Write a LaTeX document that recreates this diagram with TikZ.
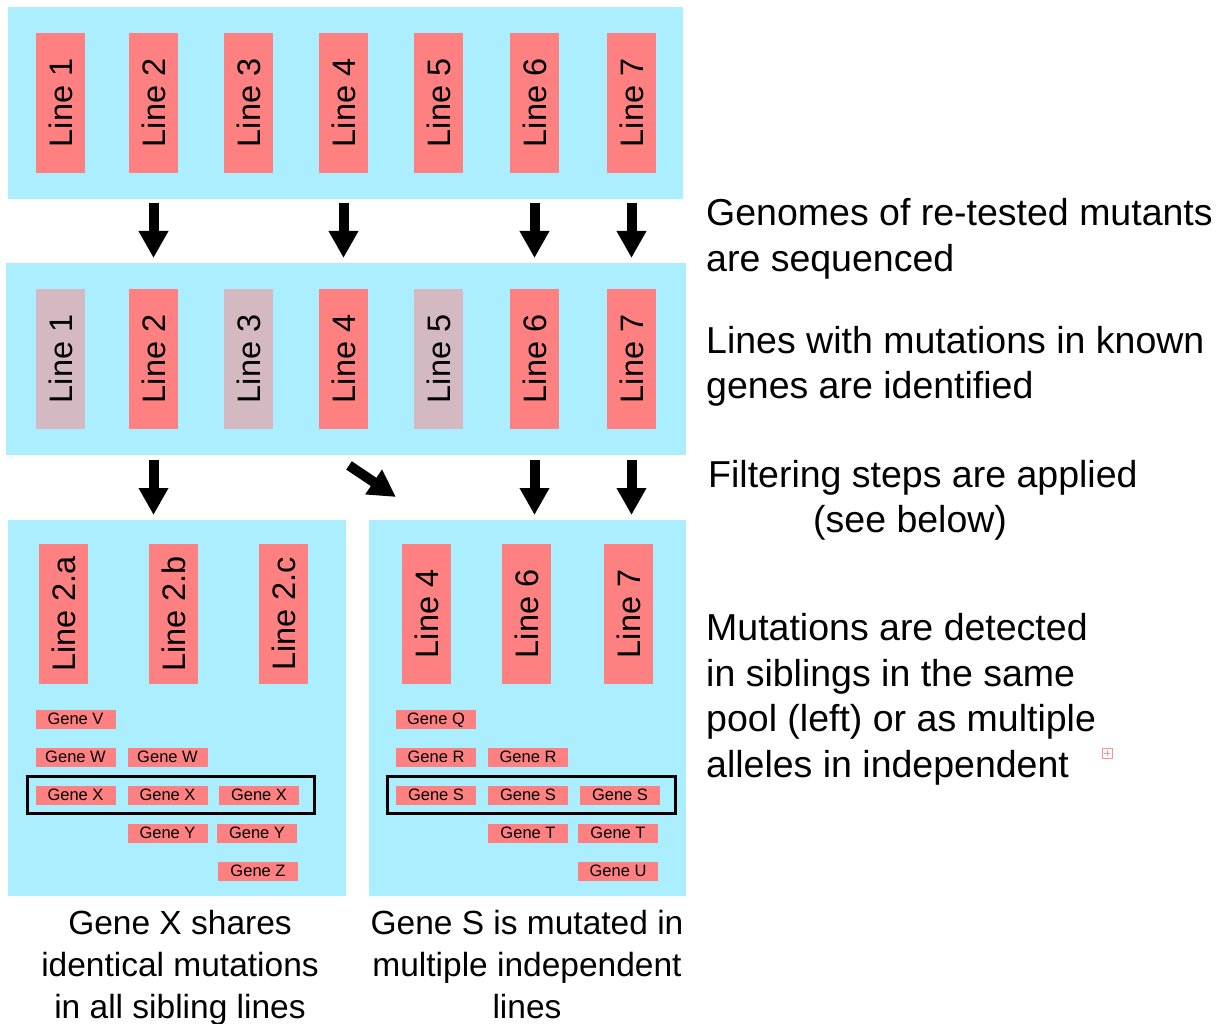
\documentclass[tikz,border=0pt]{standalone}
\usepackage{fontspec}
\setmainfont{Liberation Sans}
\usetikzlibrary{arrows.meta,calc}
\definecolor{panelblue}{RGB}{170,238,255}
\definecolor{linered}{RGB}{255,128,128}
\definecolor{linegrey}{RGB}{213,185,194}
\definecolor{iconred}{RGB}{245,150,150}
\begin{document}
\begin{tikzpicture}[x=1pt,y=-1pt,
panel/.style={fill=panelblue,inner sep=0pt,anchor=north west},
linebox/.style={fill=linered,rotate=90,minimum width=140pt,minimum height=49pt,inner sep=0pt,font=\fontsize{32.5}{39}\selectfont},
genebox/.style={fill=linered,minimum width=80pt,minimum height=19pt,inner sep=0pt,text height=11.8pt,text depth=0pt,font=\fontsize{16.5}{20}\selectfont},
fatarrow/.style={line width=10pt,-{Triangle[length=27pt,width=28pt]}},
hitbox/.style={draw=black,line width=3pt,inner sep=0pt},
note/.style={align=left,anchor=base west,inner sep=0pt,font=\fontsize{37.5}{45.5}\selectfont},
caption/.style={align=center,anchor=base,inner sep=0pt,font=\fontsize{33.5}{42}\selectfont}]
\useasboundingbox (0,0) rectangle (1226,1024);
\node[panel,minimum width=675pt,minimum height=192pt](top) at (8,7){};
\node[panel,minimum width=680pt,minimum height=192pt](mid) at (6,263){};
\node[panel,minimum width=338pt,minimum height=376pt](pool) at (8,520){};
\node[panel,minimum width=317pt,minimum height=376pt](indep) at (369,520){};
\foreach \i/\x in {1/60.5,2/153.5,3/248.5,4/343.5,5/438.5,6/534.5,7/631.5}{
\node[linebox](t\i) at (\x,103){Line \i};
}
\foreach \i/\x/\c in {1/60.5/linegrey,2/153.5/linered,3/248.5/linegrey,4/343.5/linered,5/438.5/linegrey,6/534.5/linered,7/631.5/linered}{
\node[linebox,fill=\c](m\i) at (\x,359){Line \i};
}
\node[linebox](b2a) at (63.5,614){Line 2.a};
\node[linebox](b2b) at (173.5,614){Line 2.b};
\node[linebox](b2c) at (283.5,614){Line 2.c};
\node[linebox](b4) at (426.5,614){Line 4};
\node[linebox](b6) at (526.5,614){Line 6};
\node[linebox](b7) at (628.5,614){Line 7};
\node[hitbox,minimum width=287pt,minimum height=37pt](hitx) at (170.5,794.5){};
\node[hitbox,minimum width=288pt,minimum height=37pt](hits) at (531,794.5){};
\foreach \n/\x/\y in {V/75.5/719,W/75.5/757,W/167.5/757,X/75.5/795,X/167.5/795,X/259/795,Y/167.5/833,Y/257/833,Z/258/871}{
\node[genebox] at (\x,\y){Gene \n};
}
\foreach \n/\x/\y in {Q/436/719,R/436/757,R/528/757,S/436/795,S/528/795,S/620/795,T/528/833,T/618/833,U/618/871}{
\node[genebox] at (\x,\y){Gene \n};
}
\foreach \i in {2,4,6,7}{
\draw[fatarrow]($(m\i |- top.south)+(0,4)$)--($(m\i |- mid.north)+(0,-5)$);
}
\foreach \i in {2,6,7}{
\draw[fatarrow]($(m\i |- mid.south)+(0,5)$)--($(m\i |- pool.north)+(0,-5)$);
}
\draw[fatarrow]($(m4 |- mid.south)+(5.5,10)$)--($(indep.north west)+(27,-23)$);
\node[note](seq) at (706,271.5){Genomes of re-tested mutants\\are sequenced};
\node[note](known) at (706,398.5){Lines with mutations in known\\genes are identified};
\node[note](filt) at (708,532.5){Filtering steps are applied\\\hspace*{105pt}(see below)};
\node[note](detect) at (706,777){Mutations are detected\\in siblings in the same\\pool (left) or as multiple\\alleles in independent};
\node[caption](capx) at (180,1018){Gene X shares\\identical mutations\\in all sibling lines};
\node[caption](caps) at (527,1018){Gene S is mutated in\\multiple independent\\lines};
\draw[iconred,line width=1pt](1102,748) rectangle (1112,758)
(1104,753)--(1110,753) (1107,750)--(1107,756);
\end{tikzpicture}
\end{document}
